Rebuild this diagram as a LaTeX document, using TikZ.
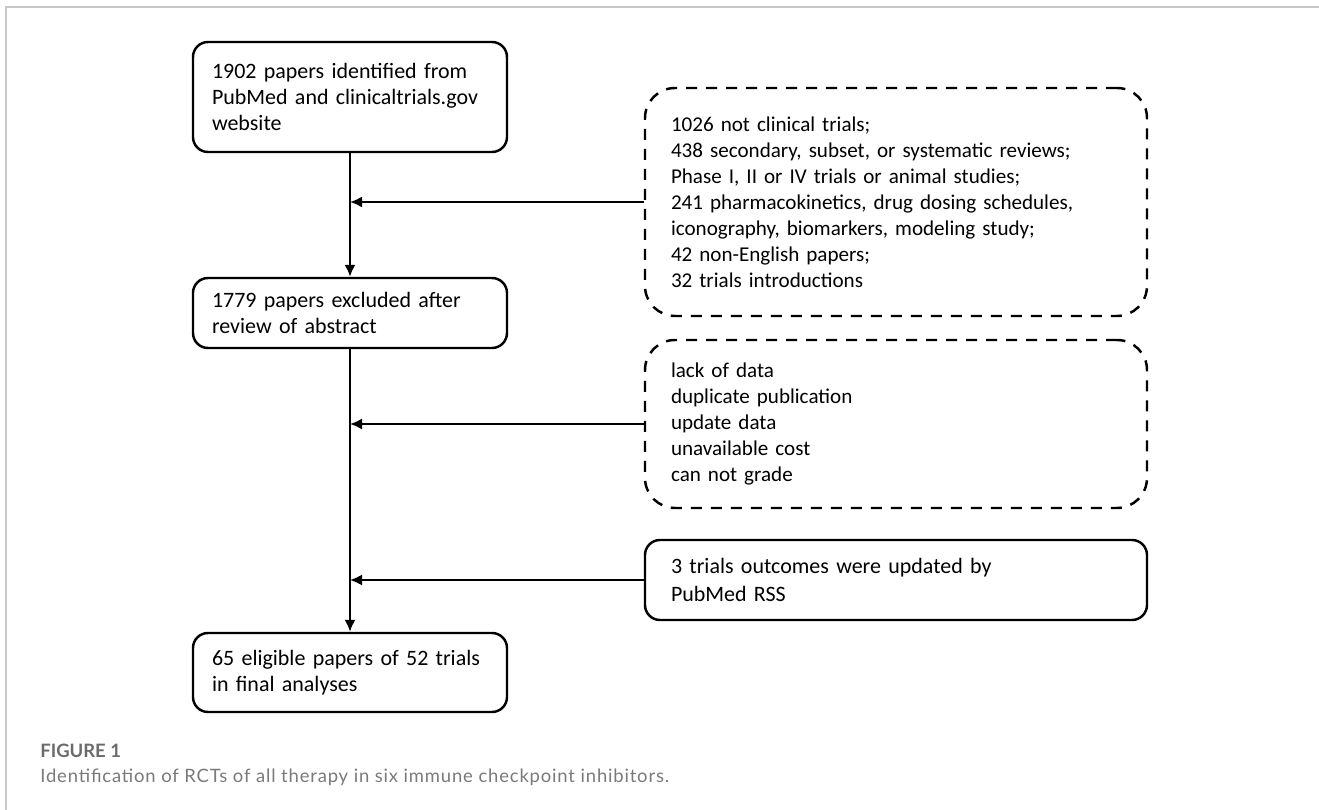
\documentclass[tikz,border=0pt]{standalone}
\usepackage{fontspec}
\setmainfont{Carlito}
\newfontfamily\capfont[LetterSpace=4.5]{Lato}
\newfontfamily\capboldfont{Lato}
\usetikzlibrary{arrows.meta}
\tikzset{
  box/.style={draw, line width=1.4pt, rounded corners=0.3cm, minimum width=6.28cm,
    inner xsep=0.38cm, text width=5.52cm, align=left, font=\fontsize{12.5}{14.8}\selectfont},
  exclbox/.style={draw, line width=1.4pt, dash pattern=on 0.22cm off 0.18cm, rounded corners=0.6cm,
    minimum width=10.04cm, inner xsep=0.52cm, text width=9cm, align=left, font=\fontsize{12}{14.8}\selectfont},
  sidebox/.style={exclbox, dash pattern=, rounded corners=0.3cm, font=\fontsize{12.5}{15.5}\selectfont},
  flow/.style={->, line width=1.1pt}
}
\begin{document}
\begin{tikzpicture}[>={Latex[length=2.4mm,width=2.2mm]}]
    \useasboundingbox (0,0) rectangle (26.38,-16.2);
    % 1. Khung
    \draw[line width=0.8pt, black!22] (0.12,-16.2) -- (0.12,-0.14) -- (26.38,-0.14);

    % 2. Các ô chính
    \node[box, minimum height=2.2cm] (ident) at (7,-1.94)
        {1902 papers identified from PubMed and clinicaltrials.gov website};
    \node[box, minimum height=1.4cm] (abstr) at (7,-6.26)
        {1779 papers excluded after review of abstract};
    \node[box, minimum height=1.58cm] (final) at (7,-13.45)
        {65 eligible papers of 52 trials in final analyses};

    % 3. Các ô loại trừ
    \node[exclbox, minimum height=4.56cm] (excl1) at (17.92,-4.04)
        {1026 not clinical trials;\\
         438 secondary, subset, or systematic reviews;\\
         Phase I, II or IV trials or animal studies;\\
         241 pharmacokinetics, drug dosing schedules,\\
         iconography, biomarkers, modeling study;\\
         42 non-English papers;\\
         32 trials introductions};
    \node[exclbox, minimum height=3.36cm] (excl2) at (17.92,-8.48)
        {lack of data\\ duplicate publication\\ update data\\ unavailable cost\\ can not grade};
    \node[sidebox, minimum height=1.6cm] (upd) at (17.92,-11.6)
        {3 trials outcomes were updated by\\ PubMed RSS};

    % 4. Mũi tên
    \draw[flow] (ident) -- (abstr);
    \draw[flow] (abstr) -- (final);
    \draw[flow] (excl1.west) -- (excl1.west -| ident.south);
    \draw[flow] (excl2.west) -- (excl2.west -| ident.south);
    \draw[flow] (upd.west) -- (upd.west -| ident.south);

    % 5. Chú thích
    \node[anchor=base west, inner sep=0pt, text=black!58, font=\capboldfont\bfseries\fontsize{10.5}{12}\selectfont]
        (fig) at (0.8,-15.14) {FIGURE 1};
    \node[anchor=base west, inner sep=0pt, text=black!52, font=\capfont\fontsize{10.5}{12}\selectfont]
        (cap) at (0.8,-15.64) {Identification of RCTs of all therapy in six immune checkpoint inhibitors.};
\end{tikzpicture}
\end{document}
